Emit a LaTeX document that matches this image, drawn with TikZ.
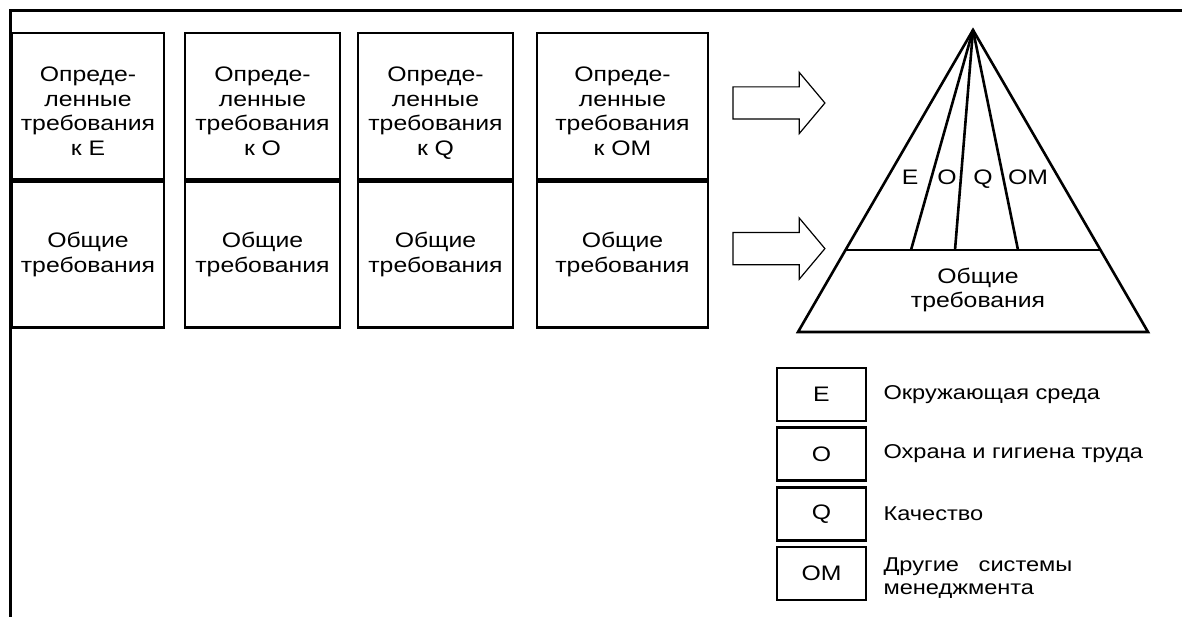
\documentclass[tikz,border=0pt]{standalone}
\usepackage{fontspec}
\setmainfont[FakeStretch=1.18]{Liberation Sans}
\usetikzlibrary{positioning,shapes.arrows}

\newcommand{\spectext}[1]{\rule{0pt}{25pt}Опреде-\\ленные\\требования\\к #1}

\begin{document}
\begin{tikzpicture}[x=1pt, y=-1pt, line width=2.6pt, font=\fontsize{21}{24.5}\selectfont,
	box/.style={draw, align=center, minimum height=146pt, inner sep=0pt},
	spec/.style={box, text depth=0pt},
	key/.style={draw, line width=2.4pt, minimum width=89pt, minimum height=53pt, inner sep=0pt},
	keytext/.style={align=left, font=\fontsize{20}{23}\selectfont, inner sep=0pt},
	bigarrow/.style={draw, line width=1.2pt, single arrow, inner sep=15.5pt, minimum height=92pt,
		single arrow head extend=14.5pt, single arrow tip angle=100, single arrow head indent=0pt}]
	\useasboundingbox (0,0) rectangle (1182,617);
	
	% Frame
	\draw [line width=3pt] (10,617) -- (10,11) -- (1182,11);
	
	% Columns {E, O, Q, OM}
	\node [spec, minimum width=152pt]	(specE)		at (88,106)				{\spectext{Е}};
	\node [spec, minimum width=155pt]	(specO)		[right=18.4pt of specE]	{\spectext{О}};
	\node [spec, minimum width=155pt]	(specQ)		[right=15.4pt of specO]	{\spectext{Q}};
	\node [spec, minimum width=171pt]	(specOM)	[right=21.4pt of specQ]	{\spectext{ОМ}};
	
	\node [box, minimum width=152pt]	(genE)		[below=0pt of specE]	{Общие\\требования};
	\node [box, minimum width=155pt]	(genO)		[below=0pt of specO]	{Общие\\требования};
	\node [box, minimum width=155pt]	(genQ)		[below=0pt of specQ]	{Общие\\требования};
	\node [box, minimum width=171pt]	(genOM)		[below=0pt of specOM]	{Общие\\требования};
	
	% Arrows
	\node [bigarrow]	(arrSpec)	[right=23pt of specOM, yshift=3pt]	{};
	\node [bigarrow]	(arrGen)	[right=23pt of genOM, yshift=6pt]	{};
	
	% Pyramid
	\coordinate (apex)		at (973,30);
	\coordinate (baseL)		at (798,332);
	\coordinate (baseR)		at (1148,332);
	\coordinate (midL)		at (845.5,250);
	\coordinate (midR)		at (1100.5,250);
	\draw [line join=miter] (apex) -- (baseL) -- (baseR) -- cycle;
	\draw (midL) -- (midR);
	\foreach \x in {911,955,1018}
		\draw (apex) -- (\x,250);
	
	\node [anchor=base]	(pyrE)	at (910,185)	{E};
	\node [anchor=base]	(pyrO)	at (947,185)	{O};
	\node [anchor=base]	(pyrQ)	at (983,185)	{Q};
	\node [anchor=base]	(pyrOM)	at (1028,185)	{OM};
	\node [align=center]	(pyrGen)	at (978,290)	{Общие\\требования};
	
	% Legend
	\node [key]	(keyE)	at (821.5,394.5)		{E};
	\node [key]	(keyO)	[below=4pt of keyE]		{O};
	\node [key]	(keyQ)	[below=4.5pt of keyO]	{Q};
	\node [key]	(keyOM)	[below=4.5pt of keyQ]	{OM};
	
	\node [keytext]	(txtE)	[right=15pt of keyE]	{Окружающая среда};
	\node [keytext]	(txtO)	[right=15pt of keyO]	{Охрана и гигиена труда};
	\node [keytext]	(txtQ)	[right=15pt of keyQ]	{Качество};
	\node [keytext]	(txtOM)	[right=15pt of keyOM, yshift=-4pt]	{Другие\ \ \ системы\\менеджмента};
	
\end{tikzpicture}
\end{document}
